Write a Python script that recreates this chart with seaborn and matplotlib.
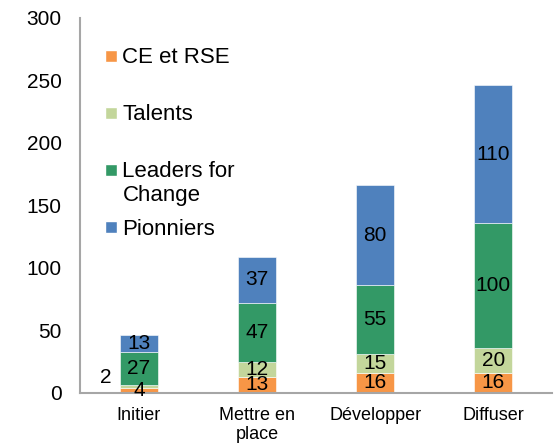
import numpy as np
import seaborn as sns
import matplotlib.pyplot as plt
from matplotlib.patches import Rectangle

categories = ["Initier", "Mettre en\nplace", "Développer", "Diffuser"]
series_names = ["CE et RSE", "Talents", "Leaders for\nChange", "Pionniers"]
ce_rse = [4, 13, 16, 16]
talents = [2, 12, 15, 20]
leaders = [27, 47, 55, 100]
pionniers = [13, 37, 80, 110]
colors = ["#F79646", "#C3D69B", "#339966", "#4F81BD"]

sns.set_style("white")
plt.rcParams["font.family"] = ["Liberation Sans", "DejaVu Sans"]
plt.rcParams["text.color"] = "black"
plt.rcParams["xtick.color"] = "black"
plt.rcParams["ytick.color"] = "black"

fig = plt.figure(figsize=(5.55, 4.46), dpi=100)
ax = fig.add_axes([0.144, 0.119, 0.851, 0.841])

bottom = np.zeros(len(categories))
all_series = [ce_rse, talents, leaders, pionniers]
for name, vals, col in zip(series_names, all_series, colors):
    n_before = len(ax.patches)
    sns.barplot(x=categories, y=vals, bottom=bottom, color=col, saturation=1,
                width=0.32, edgecolor="white", linewidth=0.4, ax=ax)
    bars = ax.patches[n_before:]
    for bar, v in zip(bars, vals):
        cx = bar.get_x() + bar.get_width() / 2
        cy = bar.get_y() + bar.get_height() / 2
        if v < 4:
            # too small to fit, put it left of the bar
            ax.text(bar.get_x() - 0.12, cy + 7, str(v), ha="center", va="center", fontsize=15)
        else:
            ax.text(cx, cy, str(v), ha="center", va="center", fontsize=15)
    bottom = bottom + np.array(vals)

ax.set_ylim(0, 300)
ax.set_yticks(range(0, 301, 50))
ax.set_xlim(-0.5, 3.5)
ax.set_xlabel("")
ax.set_ylabel("")
ax.tick_params(axis="y", length=0, pad=13, labelsize=15)
ax.tick_params(axis="x", length=0, pad=10, labelsize=13)
for lbl in ax.get_xticklabels():
    lbl.set_linespacing(1.15)

for s in ["top", "right"]:
    ax.spines[s].set_visible(False)
for s in ["left", "bottom"]:
    ax.spines[s].set_color("#A6A6A6")
    ax.spines[s].set_linewidth(1.5)

# legend drawn by hand: entries evenly spaced, two-line label hangs below
for i, (name, col) in enumerate(zip(series_names, colors)):
    yc = 0.899 - i * 0.152
    ax.add_patch(Rectangle((0.053, yc - 0.016), 0.025, 0.032, facecolor=col,
                           transform=ax.transAxes, clip_on=False))
    ax.text(0.090, yc + 0.022, name, transform=ax.transAxes, ha="left", va="top",
            fontsize=16, linespacing=1.15)

plt.savefig("out.png", dpi=100)
